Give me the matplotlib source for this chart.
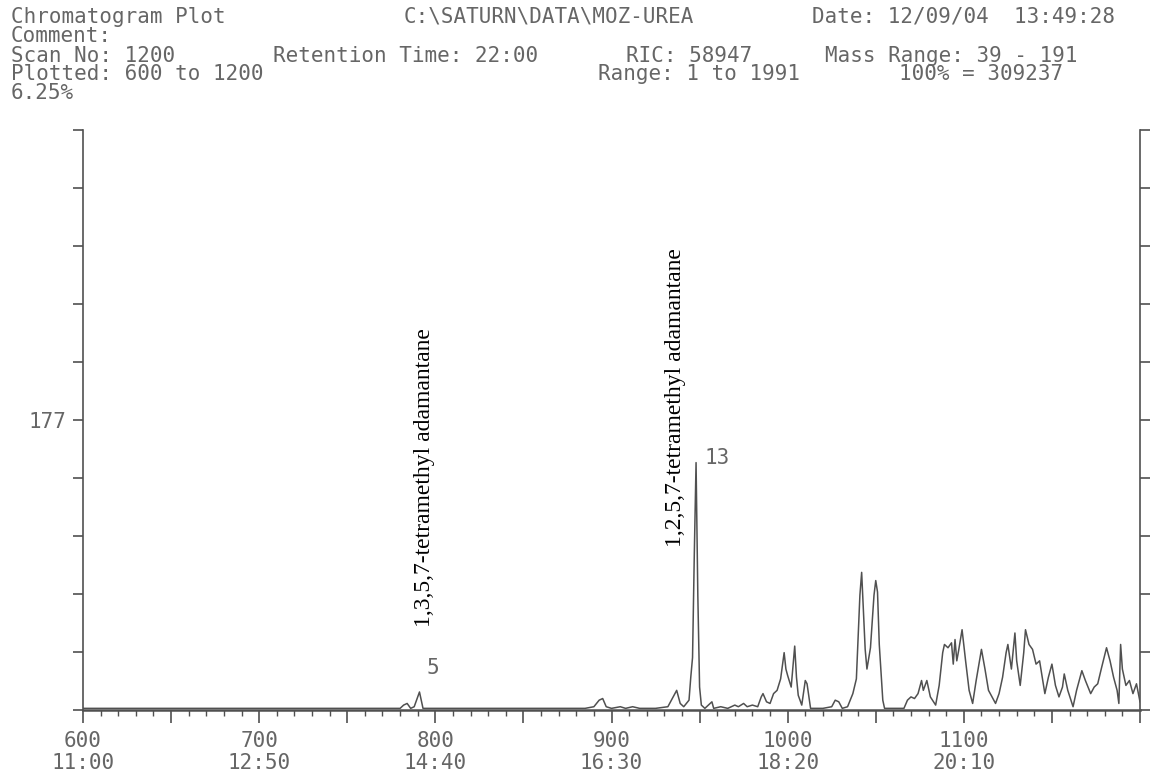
import matplotlib
matplotlib.use('Agg')
import matplotlib.pyplot as plt
from matplotlib.ticker import MultipleLocator, FixedLocator

W, H = 1159, 778

# scan number / intensity
scans = [600, 620, 650, 680, 700, 720, 750, 770, 780, 782, 784, 786, 788, 790, 791, 792, 793,
         800, 820, 850, 870, 885, 890, 893, 895, 897, 900, 905, 908, 912, 916, 925, 932, 935,
         937, 939, 941, 944, 945, 946, 947, 948, 949, 950, 951, 953, 957, 958, 962, 966, 970,
         972, 975, 977, 980, 983, 985, 986, 988, 990, 992, 994, 996, 998, 999, 1000, 1002,
         1004, 1005, 1006, 1008, 1010, 1011, 1013, 1015, 1020, 1025, 1027, 1029, 1031, 1034,
         1037, 1039, 1040, 1041, 1042, 1043, 1044, 1045, 1047, 1049, 1050, 1051, 1052, 1054,
         1055, 1060, 1066, 1068, 1070, 1072, 1074, 1076, 1077, 1079, 1081, 1084, 1086, 1088,
         1089, 1091, 1093, 1094, 1095, 1096, 1097, 1099, 1101, 1103, 1105, 1107, 1110, 1112,
         1114, 1116, 1118, 1120, 1122, 1124, 1125, 1127, 1129, 1130, 1132, 1134, 1135, 1137,
         1139, 1141, 1143, 1146, 1148, 1150, 1152, 1154, 1156, 1157, 1159, 1162, 1164, 1167,
         1169, 1172, 1174, 1176, 1178, 1181, 1183, 1185, 1187, 1188, 1189, 1190, 1192, 1194,
         1196, 1198, 1200]
counts = [1, 1, 1, 1, 1, 1, 1, 1, 1, 3, 4, 1, 2, 8, 11, 6, 1,
          1, 1, 1, 1, 1, 2, 6, 7, 2, 1, 2, 1, 2, 1, 1, 2, 8,
          12, 4, 2, 6, 20, 32, 95, 151, 70, 14, 3, 1, 5, 1, 2, 1, 3,
          2, 4, 2, 3, 2, 8, 10, 5, 4, 10, 12, 19, 35, 25, 21, 14,
          39, 20, 9, 3, 18, 16, 1, 1, 1, 2, 6, 5, 1, 2,
          10, 19, 45, 70, 84, 60, 37, 25, 38, 70, 79, 72, 40, 6,
          1, 1, 1, 6, 8, 7, 10, 18, 12, 18, 8, 3, 15, 35,
          40, 38, 41, 28, 43, 30, 36, 49, 30, 12, 4, 18, 37, 25,
          12, 8, 4, 10, 20, 35, 40, 25, 47, 30, 15, 35, 49, 40,
          37, 28, 30, 10, 20, 28, 15, 8, 14, 22, 12, 2, 12, 24,
          18, 10, 14, 16, 25, 38, 30, 20, 12, 4, 40, 25, 15, 18,
          10, 16, 5]

xtick_pos = [600, 700, 800, 900, 1000, 1100]
xtick_lab = ['600\n11:00', '700\n12:50', '800\n14:40', '900\n16:30', '1000\n18:20', '1100\n20:10']

peaks = [(798.7, 25.6, '5'), (959.9, 153.7, '13')]
compounds = [(794, 50.6, '1,3,5,7-tetramethyl adamantane'),
             (936.6, 99.5, '1,2,5,7-tetramethyl adamantane')]

header = [
    (11, 17, 'Chromatogram Plot'),
    (404, 17, 'C:\\SATURN\\DATA\\MOZ-UREA'),
    (812, 17, 'Date: 12/09/04  13:49:28'),
    (11, 36, 'Comment:'),
    (11, 56, 'Scan No: 1200'),
    (273, 56, 'Retention Time: 22:00'),
    (626, 56, 'RIC: 58947'),
    (825, 56, 'Mass Range: 39 - 191'),
    (11, 74, 'Plotted: 600 to 1200'),
    (598, 74, 'Range: 1 to 1991'),
    (899, 74, '100% = 309237'),
    (11, 93, '6.25%'),
]

grey = '#666666'
ink = '#505050'
mono = 'DejaVu Sans Mono'

fig = plt.figure(figsize=(W / 100, H / 100), dpi=100)
ax = fig.add_axes([83 / W, 1 - 710 / H, (1140 - 83) / W, 580 / H])

ax.plot(scans, counts, color=ink, linewidth=1.1)

ax.set_xlim(600, 1200)
ax.set_ylim(0, 354)

for s in ['left', 'right', 'bottom']:
    ax.spines[s].set_color(ink)
    ax.spines[s].set_linewidth(1.2)
ax.spines['bottom'].set_linewidth(1.8)
ax.spines['top'].set_visible(False)

ax.xaxis.set_minor_locator(MultipleLocator(10))
ax.set_xticks(range(600, 1201, 50))
ax.set_xticklabels([xtick_lab[xtick_pos.index(v)] if v in xtick_pos else ''
                    for v in range(600, 1201, 50)],
                   family=mono, fontsize=15, color=grey, linespacing=1.15)

yt = [i * 35.4 for i in range(11)]
ax.yaxis.set_major_locator(FixedLocator(yt))
ax.set_yticklabels(['177' if i == 5 else '' for i in range(11)],
                   family=mono, fontsize=15, color=grey)

ax.tick_params(axis='x', which='major', direction='out', length=9, width=1.2,
               color=ink, pad=6)
ax.tick_params(axis='x', which='minor', direction='out', length=4, width=1,
               color=ink)
ax.tick_params(axis='y', which='major', direction='out', length=7, width=1.2,
               color=ink, right=True, pad=5)

for x, y, t in peaks:
    ax.text(x, y, t, family=mono, fontsize=15, color=grey, ha='center', va='center')

for x, y, t in compounds:
    ax.text(x, y, t, family='Liberation Serif', fontsize=17, color='black',
            rotation=90, ha='center', va='bottom')

for px, py, t in header:
    fig.text(px / W, 1 - py / H, t, family=mono, fontsize=15, color=grey,
             ha='left', va='center')

fig.savefig('out.png', dpi=100)
